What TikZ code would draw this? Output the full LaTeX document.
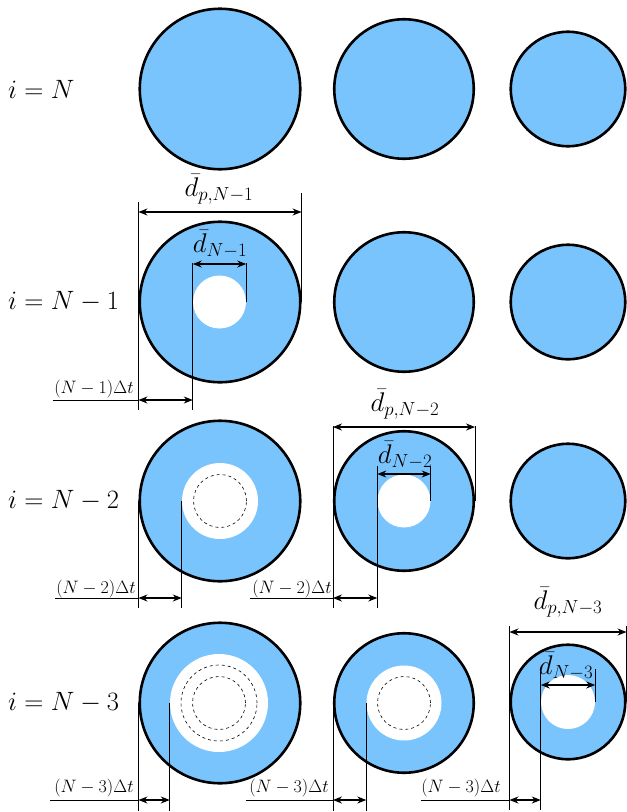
\RequirePackage{fix-cm}
\documentclass[tikz,border=0pt]{standalone}
\usepackage{amsmath}
\usetikzlibrary{arrows.meta,positioning}
\definecolor{GraoAzul}{RGB}{122,196,253}
\tikzset{
  particula/.style={circle, draw=black, line width=2.6pt, fill=GraoAzul, inner sep=0pt},
  poro/.style={circle, fill=white, inner sep=0pt},
  frente/.style={circle, draw=black, dashed, line width=0.6pt, inner sep=0pt},
  % linhas de cota e setas de cota
  cota/.style={line width=0.7pt, black},
  seta/.style={{Stealth[length=9pt,width=7pt]}-{Stealth[length=9pt,width=7pt]}, line width=1.1pt, black},
  rotulolinha/.style={anchor=west, inner sep=0pt, font=\fontsize{26.5}{29}\selectfont},
  rotulocota/.style={inner sep=0pt, font=\fontsize{27}{29}\selectfont},
  rotulotempo/.style={inner sep=0pt, font=\fontsize{18}{20}\selectfont},
}

\begin{document}
\begin{tikzpicture}[x=1pt, y=-1pt]
  \useasboundingbox (0,0) rectangle (627,812);

  % --- Rótulos das linhas -----------------------------------------------------
  \node[rotulolinha] (lin1) at (8,89)  {$i = N$};
  \node[rotulolinha] (lin2) at (8,302) {$i = N - 1$};
  \node[rotulolinha] (lin3) at (8,501) {$i = N - 2$};
  \node[rotulolinha] (lin4) at (8,703) {$i = N - 3$};

  % --- i = N ------------------------------------------------------------------
  \node[particula, minimum size=160.5pt] (p11) at (220,89) {};
  \node[particula, minimum size=139.5pt] (p12) at (404,89) {};
  \node[particula, minimum size=114.5pt] (p13) at (568,89) {};

  % --- i = N-1 ----------------------------------------------------------------
  \node[particula, minimum size=160.5pt] (p21) at (220,302) {};
  \node[poro, minimum size=53pt] (h21) at (219.5,302) {};
  \node[particula, minimum size=139.5pt] (p22) at (404,302) {};
  \node[particula, minimum size=114.5pt] (p23) at (568,302) {};

  \draw[cota] ([yshift=100pt]p21.west) -- ([yshift=-108pt]p21.west);
  \draw[cota] ([yshift=109pt]p21.east) -- (p21.east);
  \draw[seta] ([yshift=90pt]p21.west) -- ([yshift=90pt]p21.east);
  \draw[cota] ([yshift=39pt]h21.west) -- ([yshift=-108pt]h21.west);
  \draw[cota] ([yshift=39pt]h21.east) -- (h21.east);
  \draw[seta] ([yshift=38pt]h21.west) -- ([yshift=38pt]h21.east);
  \draw[cota] ([shift={(-85pt,-98pt)}]p21.west) -- ([yshift=-98pt]p21.west);
  \draw[seta] ([yshift=-98pt]p21.west) -- ([yshift=-98pt]h21.west);

  \node[rotulocota]  (lp21) at (219,189) {$\bar{d}_{p,N-1}$};
  \node[rotulocota]  (ld21) at (220,244) {$\bar{d}_{N-1}$};
  \node[rotulotempo] (lt21) at (94,389)  {$(N-1)\Delta t$};

  % --- i = N-2 ----------------------------------------------------------------
  \node[particula, minimum size=160.5pt] (p31) at (220,501) {};
  \node[poro, minimum size=76pt] (h31) at (220,501) {};
  \node[frente, minimum size=53pt] (f31) at (220,501) {};
  \node[particula, minimum size=139.5pt] (p32) at (404,501) {};
  \node[poro, minimum size=53pt] (h32) at (404,501) {};
  \node[particula, minimum size=114.5pt] (p33) at (568,501) {};

  \draw[cota] (p31.west) -- ([yshift=-107pt]p31.west);
  \draw[cota] (h31.west) -- ([yshift=-107pt]h31.west);
  \draw[cota] ([shift={(-83pt,-97pt)}]p31.west) -- ([yshift=-97pt]p31.west);
  \draw[seta] ([yshift=-97pt]p31.west) -- ([yshift=-97pt]h31.west);

  \draw[cota] ([yshift=75pt]p32.west) -- ([yshift=-107pt]p32.west);
  \draw[cota] ([yshift=75pt]p32.east) -- (p32.east);
  \draw[seta] ([yshift=74pt]p32.west) -- ([yshift=74pt]p32.east);
  \draw[cota] ([yshift=35pt]h32.west) -- ([yshift=-107pt]h32.west);
  \draw[cota] ([yshift=35pt]h32.east) -- (h32.east);
  \draw[seta] ([yshift=27pt]h32.west) -- ([yshift=27pt]h32.east);
  \draw[cota] ([shift={(-83pt,-97pt)}]p32.west) -- ([yshift=-97pt]p32.west);
  \draw[seta] ([yshift=-97pt]p32.west) -- ([yshift=-97pt]h32.west);

  \node[rotulocota]  (lp32) at (405,404) {$\bar{d}_{p,N-2}$};
  \node[rotulocota]  (ld32) at (405,455) {$\bar{d}_{N-2}$};
  \node[rotulotempo] (lt31) at (96,589)  {$(N-2)\Delta t$};
  \node[rotulotempo] (lt32) at (292,589) {$(N-2)\Delta t$};

  % --- i = N-3 ----------------------------------------------------------------
  \node[particula, minimum size=160.5pt] (p41) at (220,703) {};
  \node[poro, minimum size=98pt] (h41) at (219,703) {};
  \node[frente, minimum size=76pt] (f41a) at (219,703) {};
  \node[frente, minimum size=53pt] (f41b) at (219,703) {};
  \node[particula, minimum size=139.5pt] (p42) at (404,703) {};
  \node[poro, minimum size=75pt] (h42) at (404,703) {};
  \node[frente, minimum size=53pt] (f42) at (404,703) {};
  \node[particula, minimum size=114.5pt] (p43) at (568,702) {};
  \node[poro, minimum size=54pt] (h43) at (568,702) {};

  \draw[cota] (p41.west) -- ([yshift=-108pt]p41.west);
  \draw[cota] (h41.west) -- ([yshift=-108pt]h41.west);
  \draw[cota] ([shift={(-88pt,-97pt)}]p41.west) -- ([yshift=-97pt]p41.west);
  \draw[seta] ([yshift=-97pt]p41.west) -- ([yshift=-97pt]h41.west);

  \draw[cota] (p42.west) -- ([yshift=-108pt]p42.west);
  \draw[cota] (h42.west) -- ([yshift=-108pt]h42.west);
  \draw[cota] ([shift={(-87pt,-97pt)}]p42.west) -- ([yshift=-97pt]p42.west);
  \draw[seta] ([yshift=-97pt]p42.west) -- ([yshift=-97pt]h42.west);

  \draw[cota] ([yshift=76pt]p43.west) -- ([yshift=-108pt]p43.west);
  \draw[cota] ([yshift=76pt]p43.east) -- (p43.east);
  \draw[seta] ([yshift=70pt]p43.west) -- ([yshift=70pt]p43.east);
  \draw[cota] ([yshift=33pt]h43.west) -- ([yshift=-108pt]h43.west);
  \draw[cota] ([yshift=33pt]h43.east) -- (h43.east);
  \draw[seta] ([yshift=17pt]h43.west) -- ([yshift=17pt]h43.east);
  \draw[cota] ([shift={(-88pt,-98pt)}]p43.west) -- ([yshift=-98pt]p43.west);
  \draw[seta] ([yshift=-98pt]p43.west) -- ([yshift=-98pt]h43.west);

  \node[rotulocota]  (lp43) at (568,602) {$\bar{d}_{p,N-3}$};
  \node[rotulocota]  (ld43) at (566,666) {$\bar{d}_{N-3}$};
  \node[rotulotempo] (lt41) at (94,788)  {$(N-3)\Delta t$};
  \node[rotulotempo] (lt42) at (289,788) {$(N-3)\Delta t$};
  \node[rotulotempo] (lt43) at (461,788) {$(N-3)\Delta t$};

\end{tikzpicture}
\end{document}
